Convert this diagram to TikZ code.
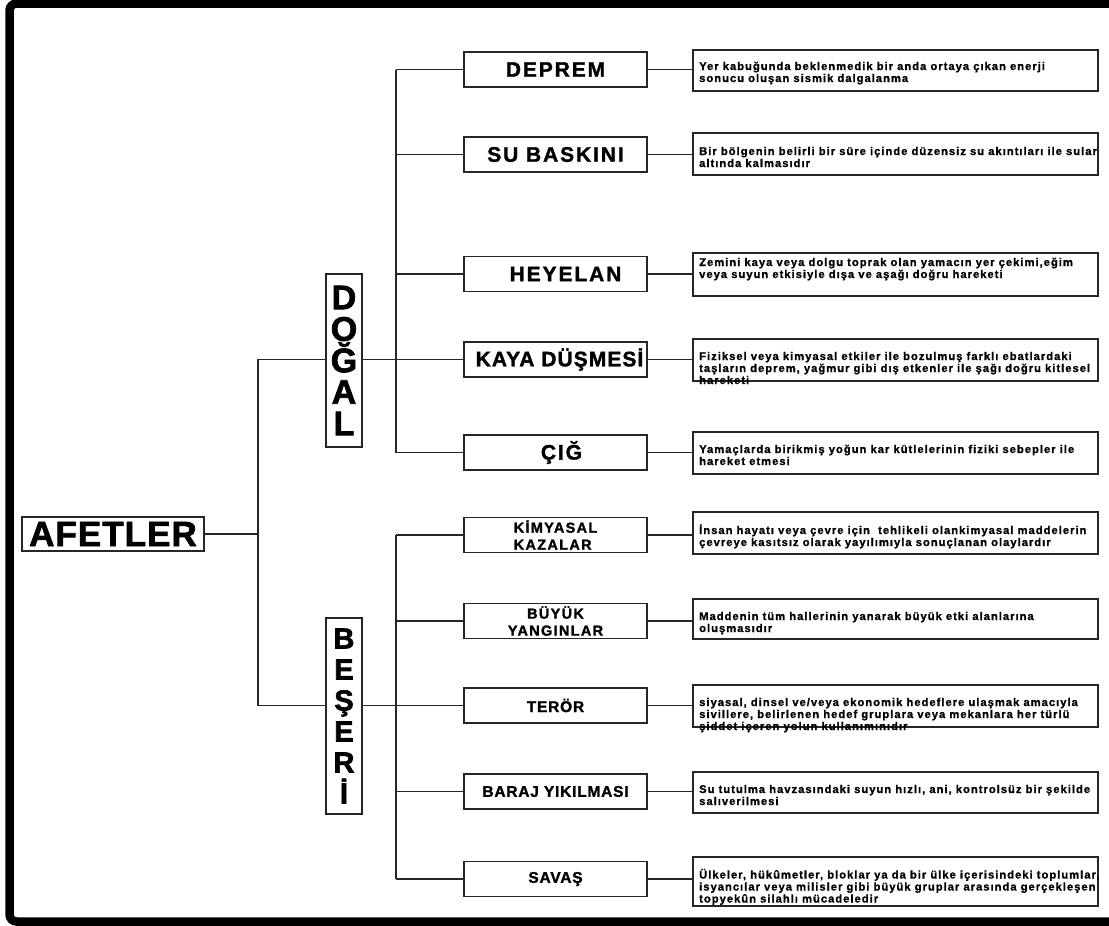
\documentclass[tikz,border=0pt]{standalone}
\usepackage{fontspec}
\setmainfont{Liberation Sans}
% letter-spaced heavy families for the different text levels
\newfontfamily\descfont[LetterSpace=9, BoldFeatures={FakeBold=1}]{Liberation Sans}
\newfontfamily\catfont[LetterSpace=9, BoldFeatures={FakeBold=1.5}]{Liberation Sans}
\newfontfamily\catfontnarrow[LetterSpace=5, BoldFeatures={FakeBold=1.5}]{Liberation Sans}
\newfontfamily\humfont[LetterSpace=9, BoldFeatures={FakeBold=1.5}]{Liberation Sans}
\newfontfamily\headfont[LetterSpace=3, BoldFeatures={FakeBold=2}]{Liberation Sans}
\newcommand{\desclines}[1]{\begin{tabular}[t]{@{}l@{}}#1\end{tabular}}

\begin{document}
\begin{tikzpicture}[x=1pt,y=-1pt,
  wire/.style={draw=black!85, line width=1.3pt},
  boxline/.style={draw=black!85, line width=1.5pt, inner sep=0pt},
  rootbox/.style={boxline, minimum width=182pt, minimum height=34pt,
    font=\headfont\bfseries\fontsize{35}{40}\selectfont},
  sidebox/.style={boxline, minimum width=36pt, align=center},
  natcat/.style={boxline, minimum width=183pt, minimum height=35pt,
    font=\catfont\bfseries\fontsize{21}{25}\selectfont},
  humcat/.style={boxline, minimum width=183pt, minimum height=35pt,
    font=\catfontnarrow\bfseries\fontsize{15.5}{17}\selectfont},
  twoline/.style={humcat, font=\humfont\bfseries\fontsize{14.5}{17}\selectfont},
  descbox/.style={boxline, minimum width=405pt},
  desctext/.style={anchor=base west, inner sep=0pt,
    font=\descfont\bfseries\fontsize{11.2}{12}\selectfont}
]
\useasboundingbox (0,0) rectangle (1109,926);

% heavy outer frame, running off the right edge
\begin{scope}
  \clip (0,0) rectangle (1109,926);
  \draw[line width=8.5pt, rounded corners=7pt] (9.5,3.5) rectangle (1135,921.5);
\end{scope}

% root and the two main groups
\node[rootbox] (afet) at (113,534) {AFETLER};
\node[sidebox, minimum height=173pt,
  font={\headfont\bfseries\fontsize{34}{31.5}\selectfont\lineskiplimit=-100pt}]
  (dogal) at (344,360.5) {D\\O\\Ğ\\A\\L};
\node[sidebox, minimum height=196pt,
  font={\headfont\bfseries\fontsize{29}{31}\selectfont\lineskiplimit=-100pt}]
  (beseri) at (344,716) {B\\E\\Ş\\E\\R\\İ};

% natural disasters
\node[natcat] (deprem)  at (555.5,69.5)  {DEPREM};
\node[natcat] (su)      at (555.5,154.5) {SU BASKINI};
\node[natcat] (heyelan) at (555.5,274)   {\hspace*{20pt}HEYELAN};
\node[natcat, font=\catfontnarrow\bfseries\fontsize{21}{25}\selectfont]
  (kaya) at (555.5,359.5) {\hspace*{8pt}KAYA DÜŞMESİ};
\node[natcat] (cig)     at (555.5,452.5) {\hspace*{12pt}ÇIĞ};

% human-made disasters
\node[twoline, align=left] (kimya) at (555.5,535) {KİMYASAL\\KAZALAR};
\node[twoline, align=center] (buyuk) at (555.5,621) {BÜYÜK\\YANGINLAR};
\node[humcat] (teror) at (555.5,705.5) {TERÖR};
\node[humcat] (baraj) at (555.5,791.5) {BARAJ YIKILMASI};
\node[humcat] (savas) at (555.5,879)   {SAVAŞ};

% description boxes
\node[descbox, minimum height=41pt] (d1)  at (895.5,70.5) {};
\node[descbox, minimum height=42pt] (d2)  at (895.5,154)  {};
\node[descbox, minimum height=43pt] (d3)  at (895.5,274.5) {};
\node[descbox, minimum height=42pt] (d4)  at (895.5,360)  {};
\node[descbox, minimum height=42pt] (d5)  at (895.5,453)  {};
\node[descbox, minimum height=42pt] (d6)  at (895.5,533)  {};
\node[descbox, minimum height=40pt] (d7)  at (895.5,619)  {};
\node[descbox, minimum height=42pt] (d8)  at (895.5,706)  {};
\node[descbox, minimum height=41pt] (d9)  at (895.5,792.5) {};
\node[descbox, minimum height=49pt] (d10) at (895.5,881.5) {};

\node[desctext] (t1) at (699,70) {\desclines{Yer kabuğunda beklenmedik bir anda ortaya çıkan enerji\\
  sonucu oluşan sismik dalgalanma}};
\node[desctext] (t2) at (699,155) {\desclines{Bir bölgenin belirli bir süre içinde düzensiz su akıntıları ile sular\\
  altında kalmasıdır}};
\node[desctext] (t3) at (699,266) {\desclines{Zemini kaya veya dolgu toprak olan yamacın yer çekimi,eğim\\
  veya suyun etkisiyle dışa ve aşağı doğru hareketi}};
\node[desctext] (t4) at (699,360) {\desclines{Fiziksel veya kimyasal etkiler ile bozulmuş farklı ebatlardaki\\
  taşların deprem, yağmur gibi dış etkenler ile şağı doğru kitlesel\\
  hareketi}};
\node[desctext] (t5) at (699,453) {\desclines{Yamaçlarda birikmiş yoğun kar kütlelerinin fiziki sebepler ile\\
  hareket etmesi}};
\node[desctext] (t6) at (699,534) {\desclines{İnsan hayatı veya çevre için\ \ tehlikeli olankimyasal maddelerin\\
  çevreye kasıtsız olarak yayılımıyla sonuçlanan olaylardır}};
\node[desctext] (t7) at (699,620) {\desclines{Maddenin tüm hallerinin yanarak büyük etki alanlarına\\
  oluşmasıdır}};
\node[desctext] (t8) at (699,706) {\desclines{siyasal, dinsel ve/veya ekonomik hedeflere ulaşmak amacıyla\\
  sivillere, belirlenen hedef gruplara veya mekanlara her türlü\\
  şiddet içeren yolun kullanımınıdır}};
\node[desctext] (t9) at (699,793) {\desclines{Su tutulma havzasındaki suyun hızlı, ani, kontrolsüz bir şekilde\\
  salıverilmesi}};
\node[desctext] (t10) at (699,878.5) {\desclines{Ülkeler, hükûmetler, bloklar ya da bir ülke içerisindeki toplumlar,\\
  isyancılar veya milisler gibi büyük gruplar arasında gerçekleşen\\
  topyekûn silahlı mücadeledir}};

% trunk joints
\coordinate (jA) at (258,534);
\coordinate (jD) at (396,360);
\coordinate (jB) at (396,705);

% root to the two groups
\draw[wire] (afet.east) -- (jA);
\draw[wire] (dogal.west |- kaya) -| (jA) |- (beseri.west |- teror);

% natural branch
\draw[wire] (dogal.east |- kaya) -- (kaya.west);
\draw[wire] (deprem.west -| jD) -- (cig.west -| jD);
\foreach \c in {deprem,su,heyelan,cig}
  \draw[wire] (\c.west) -- (\c.west -| jD);

% human-made branch
\draw[wire] (beseri.east |- teror) -- (teror.west);
\draw[wire] (kimya.west -| jB) -- (savas.west -| jB);
\foreach \c in {kimya,buyuk,baraj,savas}
  \draw[wire] (\c.west) -- (\c.west -| jB);

% categories to their descriptions
\foreach \c/\d in {deprem/d1,su/d2,heyelan/d3,kaya/d4,cig/d5,kimya/d6,buyuk/d7,teror/d8,baraj/d9,savas/d10}
  \draw[wire] (\c.east) -- (\c.east -| \d.west);
\end{tikzpicture}
\end{document}
